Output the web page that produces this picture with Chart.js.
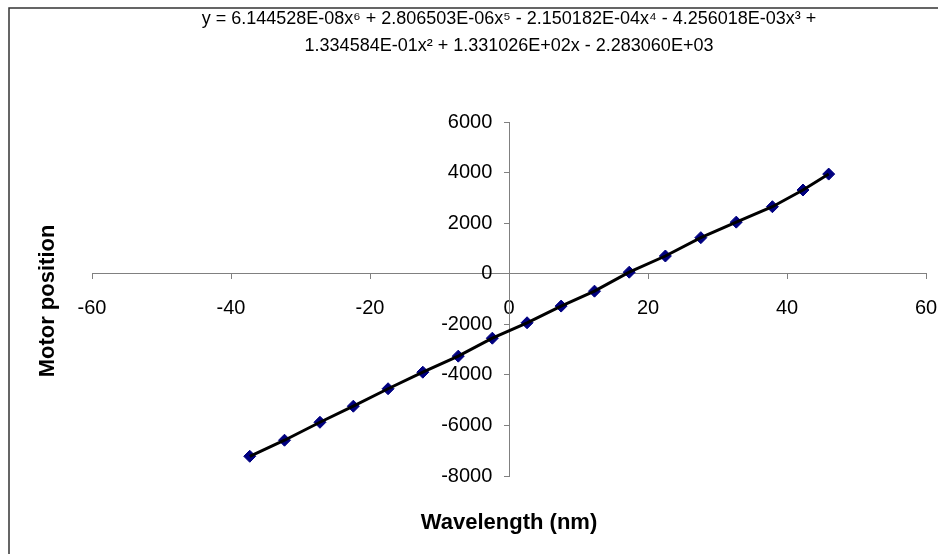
<!DOCTYPE html>
<html>
<head>
<meta charset="utf-8">
<script src="https://cdn.jsdelivr.net/npm/chart.js@4"></script>
<style>
  body { margin: 0; background: #fff; }
</style>
</head>
<body>
<canvas id="chart_motor" width="938" height="554"></canvas>
<script>
// values
var wavelength = [-37.3, -32.3, -27.2, -22.4, -17.4, -12.4, -7.3, -2.4, 2.6, 7.5, 12.3, 17.3, 22.5, 27.6, 32.7, 37.9, 42.3, 46.0]
var motorPos = [-7220, -6585, -5875, -5240, -4550, -3895, -3260, -2550, -1940, -1280, -690, 60, 700, 1425, 2040, 2650, 3310, 3940]
var equation = [
    "y = 6.144528E-08x\u2076 + 2.806503E-06x\u2075 - 2.150182E-04x\u2074 - 4.256018E-03x\u00b3 +",
    "1.334584E-01x\u00b2 + 1.331026E+02x - 2.283060E+03"
]
var xTitle = "Wavelength (nm)"
var yTitle = "Motor position"

var font = "'Liberation Sans', Arial, sans-serif"

var points = wavelength.map(function (w, i) { return { x: w, y: motorPos[i] } })

// frame + axis titles
var extras = {
    id: 'extras',
    beforeDraw: function (chart) {
        var c = chart.ctx
        c.save()
        c.fillStyle = '#fff'
        c.fillRect(0, 0, chart.width, chart.height)
        c.strokeStyle = '#333'
        c.lineWidth = 1.5
        c.strokeRect(9, 8, 1000, 1000)
        c.restore()
    },
    afterDraw: function (chart) {
        var c = chart.ctx
        var a = chart.chartArea
        c.save()
        c.fillStyle = '#000'
        c.font = "bold 22px " + font
        c.textAlign = 'center'
        c.textBaseline = 'middle'
        c.fillText(xTitle, (a.left + a.right) / 2, 523)
        c.translate(48, (a.top + a.bottom) / 2 + 2)
        c.rotate(-Math.PI / 2)
        c.fillText(yTitle, 0, 0)
        c.restore()
    }
}

var axisGrid = { display: true, drawOnChartArea: false, drawTicks: true, tickLength: 5, color: '#808080' }

var ctx = document.getElementById('chart_motor').getContext('2d')
var myChart = new Chart(ctx, {
    type: 'scatter',
    data: {
        datasets: [{
            label: 'trend',
            data: points,
            showLine: true,
            borderColor: '#000',
            borderWidth: 3,
            pointRadius: 0,
            order: 0
        }, {
            label: 'Motor position',
            data: points,
            pointStyle: 'rectRot',
            pointRadius: 6,
            backgroundColor: '#000080',
            borderColor: '#000080',
            borderWidth: 1,
            order: 1
        }]
    },
    options: {
        responsive: false,
        animation: false,
        layout: { padding: { left: 92, right: 12, top: 0, bottom: 78 } },
        plugins: {
            legend: { display: false },
            tooltip: { enabled: false },
            title: {
                display: true,
                text: equation,
                color: '#000',
                font: { family: font, size: 18, weight: 'normal', lineHeight: 1.5 },
                padding: { top: 6, bottom: 62 }
            }
        },
        scales: {
            x: {
                type: 'linear',
                position: { y: 0 },
                min: -60,
                max: 60,
                ticks: { stepSize: 20, color: '#000', padding: 18, font: { family: font, size: 20 } },
                grid: axisGrid,
                border: { display: true, color: '#808080', width: 1 },
                // axis sits inside the plot, so it should not take any room
                afterFit: function (s) { s.height = 0; s.paddingLeft = 0; s.paddingRight = 0 }
            },
            y: {
                type: 'linear',
                position: { x: 0 },
                min: -8000,
                max: 6000,
                ticks: {
                    stepSize: 2000, color: '#000', font: { family: font, size: 20 },
                    // labels sit right-aligned on the axis, so push them left a bit
                    callback: function (v) { return v + '   ' }
                },
                grid: axisGrid,
                border: { display: true, color: '#808080', width: 1 },
                afterFit: function (s) { s.width = 0 }
            }
        }
    },
    plugins: [extras]
})
</script>
</body>
</html>
